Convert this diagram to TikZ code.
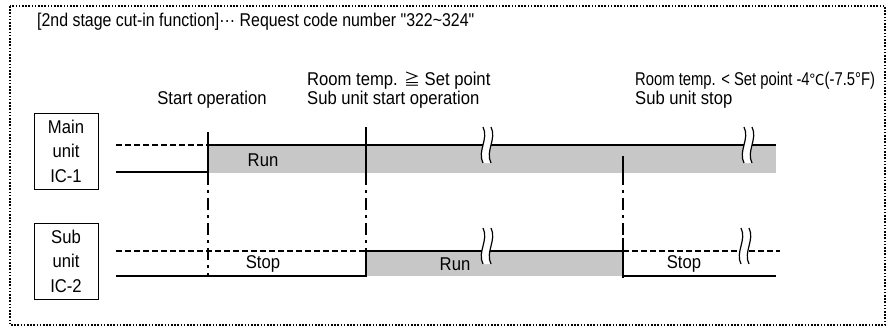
\documentclass[tikz,border=0pt]{standalone}
\usepackage{fontspec}
\setmainfont{Liberation Sans}[FakeStretch=0.9]
\newfontfamily\titlefont{Liberation Sans}[FakeStretch=0.86, Ligatures=TeXOff]
\newfontfamily\narrowfont{Liberation Sans}[FakeStretch=0.8]
\newfontfamily\jpfont{Noto Sans CJK JP}
\usetikzlibrary{positioning}
\tikzstyle{frame} = [draw, line width=1.2pt, dash pattern=on 1.6pt off 1.6pt]
\tikzstyle{unitbox} = [draw, line width=0.8pt, minimum width=64pt, minimum height=76pt, align=center, inner sep=0pt, font=\fontsize{18.5}{24.5}\selectfont]
\tikzstyle{lbl} = [inner sep=0pt, align=left, font=\fontsize{18.5}{19}\selectfont]
\tikzstyle{sig} = [draw, line width=2pt]
\tikzstyle{off} = [draw, line width=2pt, dash pattern=on 6pt off 3pt]
\tikzstyle{guide} = [draw, line width=2pt, dash pattern=on 12pt off 5pt on 3pt off 5pt]
\tikzstyle{run} = [fill=black!22]
\tikzset{brk/.pic={
  \fill [white] (-4,-18) .. controls (2,-6) and (-10,6) .. (-4,18) -- (4,18) .. controls (-2,6) and (10,-6) .. (4,-18) -- cycle;
  \draw [line width=1.2pt] (-4,-18) .. controls (2,-6) and (-10,6) .. (-4,18);
  \draw [line width=1.2pt] (4,-18) .. controls (10,-6) and (-2,6) .. (4,18);
}}

\begin{document}
\begin{tikzpicture}[x=1pt, y=-1pt]
\useasboundingbox (0,0) rectangle (888,329);
\path [frame] (10,6) rectangle (885,325);

% texts on top
\node [lbl, anchor=west] (title) at (37,22) {\titlefont [2nd stage cut-in function]··· Request code number "322\textasciitilde324"};
\node [lbl] (start) at (212,100) {Start operation};
\node [lbl, anchor=west] (on1) at (307,81) {Room temp. {\jpfont\fontsize{16}{16}\selectfont ≧}\ Set point};
\node [lbl, anchor=west] (on2) at (307,100) {Sub unit start operation};
\node [lbl, anchor=west] (stop1) at (635,81) {\narrowfont Room temp. < Set point -4{\jpfont\fontsize{15}{15}\selectfont ℃}(-7.5°F)};
\node [lbl, anchor=west] (stop2) at (635,100) {Sub unit stop};

% unit boxes
\node [unitbox] (main) at (66,151) {Main\\unit\\IC-1};
\node [unitbox] (sub) at (66,261) {Sub\\unit\\IC-2};

% IC-1
\path [run] (208,145) rectangle (776,173);
\path [off] (116,145) -- (208,145);
\path [sig] (116,172) -- (208,172) -- (208,132);
\path [sig] (208,145) -- (776,145);
\path [sig] (366,127) -- (366,173);
\path [sig] (623,156) -- (623,173);

% IC-2
\path [run] (366,251) rectangle (623,276);
\path [off] (116,251) -- (366,251);
\path [sig] (116,276) -- (366,276) -- (366,248);
\path [sig] (366,251) -- (623,251);
\path [sig] (623,238) -- (623,278);
\path [off] (623,251) -- (780,251);
\path [sig] (623,276) -- (776,276);

% timing guides
\path [guide] (208,173) -- (208,276);
\path [guide] (366,173) -- (366,248);
\path [guide] (623,173) -- (623,238);

% breaks
\pic at (487,145) {brk};
\pic at (748,145) {brk};
\pic at (487,246) {brk};
\pic at (745,246) {brk};

\node [lbl] (run1) at (263,160) {Run};
\node [lbl] (stopa) at (263,264) {Stop};
\node [lbl] (run2) at (455,264) {Run};
\node [lbl] (stopb) at (684,264) {Stop};
\end{tikzpicture}
\end{document}
